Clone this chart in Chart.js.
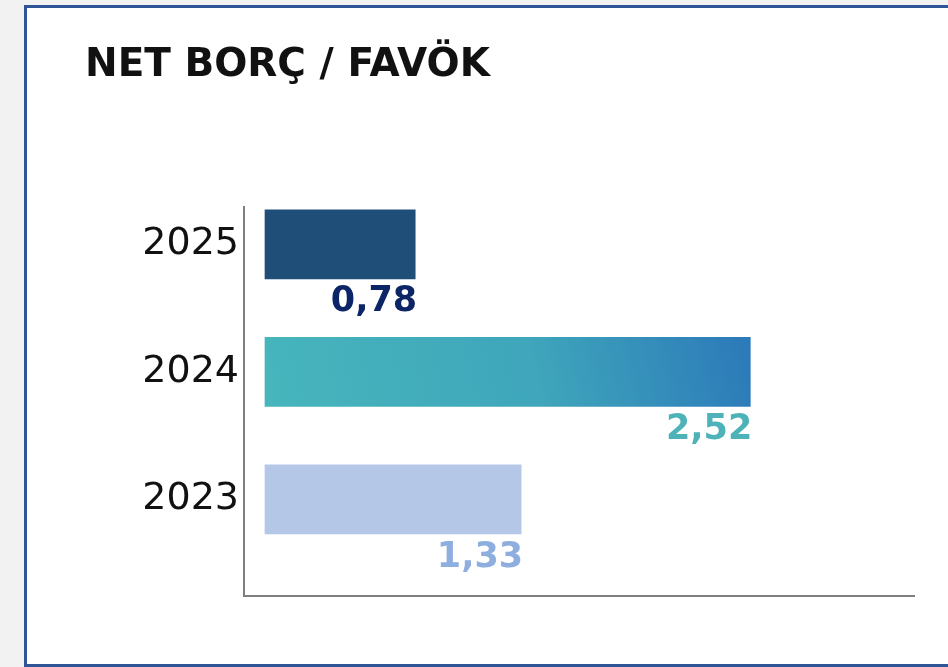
<!DOCTYPE html>
<html>
<head>
<meta charset="utf-8">
<script src="https://cdn.jsdelivr.net/npm/chart.js@4.4.0/dist/chart.umd.min.js"></script>
<style>
  html, body { margin:0; padding:0; width:948px; height:667px; overflow:hidden; background:#f2f2f2; }
  #frame { position:absolute; left:24px; top:5px; width:940px; height:656px; border:3px solid #2f5597; background:#ffffff; }
  #wrap { position:absolute; left:0; top:0; width:948px; height:667px; }
</style>
</head>
<body>
<div id="frame"></div>
<div id="wrap"><canvas id="c" width="948" height="667"></canvas></div>
<script>
const titleText = 'NET BORÇ / FAVÖK';
const years = ['2025', '2024', '2023'];
const values = [0.78, 2.52, 1.33];
const labelTexts = ['0,78', '2,52', '1,33'];
const barColors = ['#1f4e79', null, '#b4c7e7'];
const labelColors = ['#0b2566', '#4db3b8', '#8eaee0'];

function barFill(ctx) {
  const i = ctx.dataIndex;
  if (barColors[i]) return barColors[i];
  const chart = ctx.chart;
  const xs = chart.scales.x, ys = chart.scales.y;
  if (!chart.chartArea || !xs || !ys) return '#3a9fc0';
  const x0 = xs.getPixelForValue(0), x1 = xs.getPixelForValue(values[i]);
  const yc = ys.getPixelForValue(i);
  const g = chart.ctx.createLinearGradient(x0, yc + 60, x1, yc - 60);
  g.addColorStop(0, '#47b6bc');
  g.addColorStop(0.55, '#3fa6bb');
  g.addColorStop(1, '#2b78b9');
  return g;
}

const valueLabels = {
  id: 'valueLabels',
  afterDatasetsDraw(chart) {
    const c = chart.ctx;
    const meta = chart.getDatasetMeta(0);
    c.save();
    c.font = 'bold 35px "DejaVu Sans"';
    c.textAlign = 'right';
    c.textBaseline = 'top';
    meta.data.forEach((bar, i) => {
      const bottom = bar.y + bar.height / 2;
      c.fillStyle = labelColors[i];
      c.fillText(labelTexts[i], bar.x + 2, bottom + 6);
    });
    c.restore();
  }
};

new Chart(document.getElementById('c'), {
  type: 'bar',
  data: {
    datasets: [{
      data: values.map((v, i) => ({ x: v, y: i })),
      backgroundColor: barFill,
      borderWidth: 0,
      barThickness: 69
    }]
  },
  options: {
    indexAxis: 'y',
    responsive: false,
    animation: false,
    events: [],
    layout: { padding: { left: 85, right: 34, top: 0, bottom: 71 } },
    plugins: {
      legend: { display: false },
      tooltip: { enabled: false },
      title: {
        display: true,
        text: titleText,
        align: 'start',
        color: '#111111',
        font: { family: '"DejaVu Sans"', size: 39, weight: 'bold', lineHeight: 1.2 },
        padding: { top: 42, bottom: 118 }
      }
    },
    scales: {
      x: {
        type: 'linear',
        min: -0.109,
        max: 3.37,
        grid: { display: false, drawTicks: false },
        border: { display: true, color: '#7f7f7f', width: 2 },
        ticks: { display: false },
        afterFit(s) { s.height = 0; }
      },
      y: {
        type: 'linear',
        reverse: true,
        offset: false,
        bounds: 'data',
        min: -0.294,
        max: 2.757,
        grid: { display: false, drawTicks: false, offset: false },
        border: { display: true, color: '#7f7f7f', width: 2 },
        afterBuildTicks(s) { s.ticks = years.map((y, i) => ({ value: i })); },
        afterFit(s) { s.width = 159; },
        ticks: {
          padding: 5,
          color: '#111111',
          font: { family: '"DejaVu Sans"', size: 38 },
          callback: (v) => years[v] !== undefined ? years[v] : ''
        }
      }
    }
  },
  plugins: [valueLabels]
});
</script>
</body>
</html>
